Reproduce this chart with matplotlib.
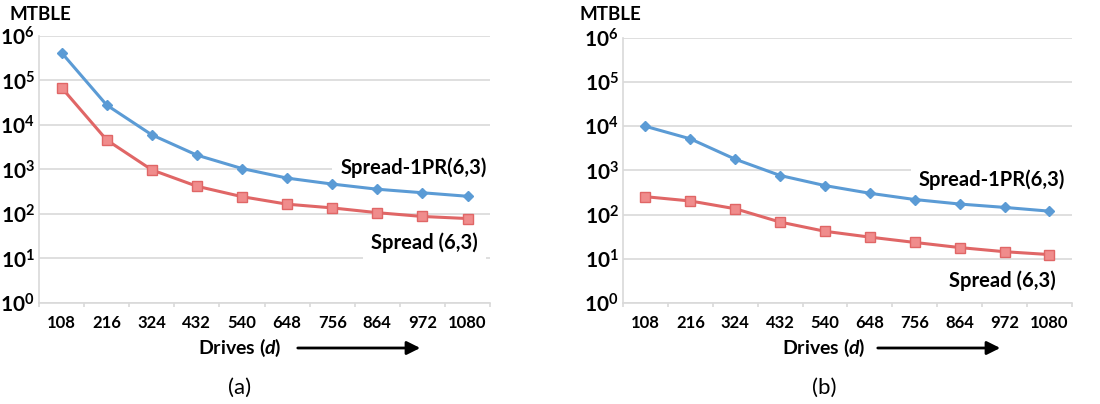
import numpy as np
import matplotlib
matplotlib.use('Agg')
import matplotlib.pyplot as plt
from matplotlib.ticker import FixedLocator, FuncFormatter

plt.rcParams['font.family'] = ['Lato', 'DejaVu Sans']
plt.rcParams['mathtext.fontset'] = 'custom'
plt.rcParams['mathtext.bf'] = 'Lato:bold'
plt.rcParams['mathtext.rm'] = 'Lato:bold'
plt.rcParams['mathtext.it'] = 'Lato:bold:italic'

drives = ['108', '216', '324', '432', '540', '648', '756', '864', '972', '1080']

# panel (a)
spread1pr_a = [4.2e5, 2.8e4, 6.0e3, 2.1e3, 1.05e3, 640, 470, 360, 300, 250]
spread_a = [6.9e4, 4.6e3, 980, 420, 245, 166, 137, 107, 88, 79]

# panel (b)
spread1pr_b = [1.0e4, 5.2e3, 1.8e3, 770, 455, 305, 220, 174, 146, 120]
spread_b = [255, 204, 136, 68, 42, 31, 23.5, 18, 14.5, 12.5]

colorBlue = '#5b9bd5'
colorRed = '#e06666'
colorRedFill = '#f08c8c'
colorGrid = '#d9d9d9'

fig = plt.figure(figsize=(11, 4.04), dpi=100)
axA = fig.add_axes([0.0355, 0.25, 0.41, 0.661])
axB = fig.add_axes([0.5664, 0.25, 0.408, 0.656])

def decade(v, pos):
    return r'$\mathbf{10^{%d}}$' % int(round(np.log10(v)))

def setup(ax, top_series, bot_series, lab1, lab2):
    x = np.arange(len(drives))
    ax.plot(x, top_series, color=colorBlue, lw=2.2, marker='D', ms=5,
            mfc=colorBlue, mec=colorBlue, zorder=3)
    ax.plot(x, bot_series, color=colorRed, lw=2.2, marker='s', ms=7,
            mfc=colorRedFill, mec=colorRed, zorder=3)
    ax.set_yscale('log')
    ax.set_ylim(1, 1e6)
    ax.set_xlim(-0.5, len(drives) - 0.5)
    ax.yaxis.set_major_locator(FixedLocator([10.0 ** k for k in range(7)]))
    ax.yaxis.set_minor_locator(FixedLocator([]))
    ax.yaxis.set_major_formatter(FuncFormatter(decade))
    ax.grid(axis='y', color=colorGrid, lw=1.2)
    ax.set_axisbelow(True)
    ax.set_xticks(x)
    ax.set_xticklabels(drives, fontsize=12, fontweight='bold')
    ax.set_xticks(np.arange(len(drives) + 1) - 0.5, minor=True)
    ax.tick_params(axis='x', which='major', length=0, pad=9)
    ax.tick_params(axis='x', which='minor', length=3, color=colorGrid, width=1.2)
    ax.tick_params(axis='y', length=0, pad=3, labelsize=15)
    for s in ['top', 'right']:
        ax.spines[s].set_visible(False)
    for s in ['left', 'bottom']:
        ax.spines[s].set_color(colorGrid)
        ax.spines[s].set_linewidth(1.2)
    ax.text(lab1[0], lab1[1], 'Spread-1PR(6,3)', transform=ax.transAxes,
            ha='center', va='center', fontsize=14.5, fontweight='bold',
            bbox=dict(facecolor='white', edgecolor='none', pad=6), zorder=2)
    ax.text(lab2[0], lab2[1], 'Spread (6,3)', transform=ax.transAxes,
            ha='center', va='center', fontsize=14.5, fontweight='bold',
            bbox=dict(facecolor='white', edgecolor='none', pad=6), zorder=2)

setup(axA, spread1pr_a, spread_a, (0.83, 0.506), (0.855, 0.225))
setup(axB, spread1pr_b, spread_b, (0.822, 0.464), (0.846, 0.083))

fig.text(0.009, 0.963, 'MTBLE', fontsize=13.5, fontweight='bold', va='center')
fig.text(0.527, 0.963, 'MTBLE', fontsize=13.5, fontweight='bold', va='center')

for cx, a0, a1, lab in [(240, 295, 423, '(a)'), (824, 875, 1003, '(b)')]:
    fig.text(cx / 1100, 1 - 348 / 404, r'Drives ($\mathit{d}$)', fontsize=14,
             fontweight='bold', ha='center', va='center')
    fig.patches.append(matplotlib.patches.FancyArrowPatch(
        (a0 / 1100, 1 - 348 / 404), (a1 / 1100, 1 - 348 / 404),
        transform=fig.transFigure, arrowstyle='-|>,head_length=8,head_width=4',
        color='black', lw=2, mutation_scale=1))
    fig.text(cx / 1100, 1 - 388 / 404, lab, fontsize=16, ha='center', va='center',
             fontweight='normal')

fig.savefig('out.png', dpi=100)
